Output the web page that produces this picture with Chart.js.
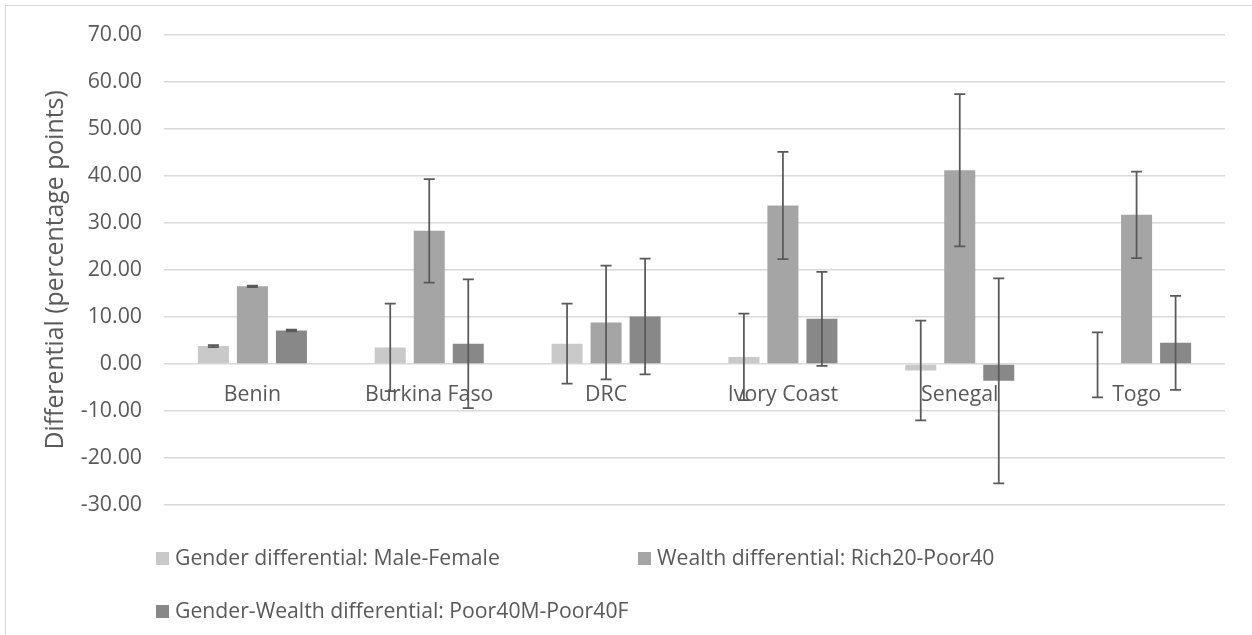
<!DOCTYPE html>
<html>
<head>
<meta charset="utf-8">
<script src="https://cdn.jsdelivr.net/npm/chart.js@4.4.1/dist/chart.umd.min.js"></script>
<style>
    body { margin: 0; background: #fff; overflow: hidden; }
    #wrap { position: relative; width: 1252px; height: 635px; }
    #frame { position: absolute; left: 5px; top: 5px; width: 1300px; height: 700px; border: 1px solid #d9d9d9; }
    #chart { position: absolute; left: 0; top: 0; }
    .legend-item { position: absolute; font: 21.2px "Open Sans", sans-serif; color: #595959; line-height: 24px; white-space: nowrap; }
    .legend-item span { display: inline-block; width: 13px; height: 13px; margin-right: 6px; vertical-align: 0; }
</style>
</head>
<body>
<div id="wrap">
    <div id="frame"></div>
    <canvas id="chart" width="1252" height="635"></canvas>
</div>
<script>
const countries = ['Benin', 'Burkina Faso', 'DRC', 'Ivory Coast', 'Senegal', 'Togo'];

const genderDiff = [3.8, 3.5, 4.3, 1.5, -1.4, -0.2];
const genderErr = [0.2, 9.3, 8.5, 9.2, 10.6, 6.9];

const wealthDiff = [16.5, 28.3, 8.8, 33.7, 41.2, 31.7];
const wealthErr = [0.15, 11.0, 12.1, 11.4, 16.2, 9.2];

const genderWealthDiff = [7.1, 4.3, 10.1, 9.6, -3.6, 4.5];
const genderWealthErr = [0.2, 13.7, 12.3, 10.0, 21.8, 10.0];

const seriesNames = [
    'Gender differential: Male-Female',
    'Wealth differential: Rich20-Poor40',
    'Gender-Wealth differential: Poor40M-Poor40F'
];
const seriesColors = ['#c9c9c9', '#a5a5a5', '#888888'];

const textColor = '#595959';
const font = { family: '"Open Sans", sans-serif', size: 21.3 };

// Error bars drawn on top of the bars, using the chart's own y scale
const errorBars = {
    id: 'errorBars',
    afterDatasetsDraw(chart) {
        const ctx = chart.ctx;
        const yScale = chart.scales.y;
        chart.data.datasets.forEach((ds, i) => {
            const meta = chart.getDatasetMeta(i);
            meta.data.forEach((bar, j) => {
                const v = ds.data[j];
                const e = ds.errors[j];
                const yTop = yScale.getPixelForValue(v + e);
                const yBot = yScale.getPixelForValue(v - e);
                ctx.save();
                ctx.strokeStyle = '#595959';
                ctx.lineWidth = 1.75;
                ctx.beginPath();
                ctx.moveTo(bar.x, yTop);
                ctx.lineTo(bar.x, yBot);
                ctx.moveTo(bar.x - 5.5, yTop);
                ctx.lineTo(bar.x + 5.5, yTop);
                ctx.moveTo(bar.x - 5.5, yBot);
                ctx.lineTo(bar.x + 5.5, yBot);
                ctx.stroke();
                ctx.restore();
            });
        });
    }
};

const ctx = document.getElementById('chart').getContext('2d');

window.diffChart = new Chart(ctx, {
    type: 'bar',
    data: {
        labels: countries,
        datasets: [
            { label: seriesNames[0], data: genderDiff, errors: genderErr, backgroundColor: seriesColors[0] },
            { label: seriesNames[1], data: wealthDiff, errors: wealthErr, backgroundColor: seriesColors[1] },
            { label: seriesNames[2], data: genderWealthDiff, errors: genderWealthErr, backgroundColor: seriesColors[2] }
        ]
    },
    options: {
        responsive: false,
        animation: false,
        categoryPercentage: 0.662,
        barPercentage: 0.795,
        layout: { padding: { top: 34, right: 27, bottom: 130, left: 0 } },
        plugins: {
            legend: { display: false },
            tooltip: { enabled: false }
        },
        scales: {
            x: {
                position: { y: 0 },
                grid: { display: false, drawTicks: false },
                border: { display: false },
                ticks: { color: textColor, font: font, padding: 18, maxRotation: 0, autoSkip: false }
            },
            y: {
                min: -30,
                max: 70,
                afterFit: (scale) => { scale.width = 164; },
                grid: { color: '#d9d9d9', lineWidth: 1.5, drawTicks: false },
                border: { display: false },
                ticks: {
                    stepSize: 10,
                    color: textColor,
                    font: font,
                    padding: 22,
                    callback: (v) => v.toFixed(2)
                },
                title: {
                    display: true,
                    text: 'Differential (percentage points)',
                    color: textColor,
                    font: { family: '"Open Sans", sans-serif', size: 24.8 },
                    padding: { top: 41, bottom: 0 }
                }
            }
        }
    },
    plugins: [errorBars]
});

// Legend laid out like the original: two items on the first row, one on the second
const legendSpots = [[156, 545], [638, 545], [156, 598]];
const wrap = document.getElementById('wrap');
seriesNames.forEach((name, i) => {
    const item = document.createElement('div');
    item.className = 'legend-item';
    item.style.left = legendSpots[i][0] + 'px';
    item.style.top = legendSpots[i][1] + 'px';
    const sw = document.createElement('span');
    sw.style.background = seriesColors[i];
    item.appendChild(sw);
    item.appendChild(document.createTextNode(name));
    wrap.appendChild(item);
});
</script>
</body>
</html>
